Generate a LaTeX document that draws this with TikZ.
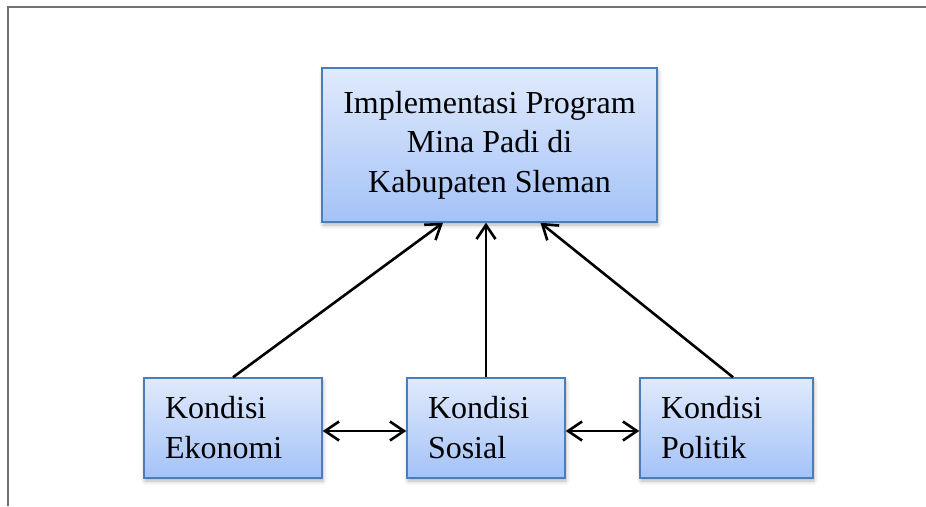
\documentclass[tikz,border=0pt]{standalone}
\usepackage{fontspec}
\setmainfont{Liberation Serif}
\usepackage{tikz}
\usetikzlibrary{arrows.meta,shadows.blur}
\definecolor{boxline}{HTML}{4A7EBB}
\definecolor{boxtop}{HTML}{E0EAFC}
\definecolor{boxbottom}{HTML}{A4C2F7}
\definecolor{framegray}{HTML}{727272}

\begin{document}
\begin{tikzpicture}[
    x=1pt, y=-1pt,
    box/.style={
        draw=boxline,
        line width=1.5pt,
        top color=boxtop,
        bottom color=boxbottom,
        blur shadow={shadow opacity=30, shadow xshift=1pt, shadow yshift=-3pt, shadow blur radius=4pt},
        font=\fontsize{32}{40}\selectfont
    },
    small/.style={
        box,
        minimum height=100pt,
        inner xsep=21pt,
        align=left
    },
    link/.style={
        line width=2.6pt,
        -{Straight Barb[length=14pt,width=19pt,line width=2.6pt]}
    },
    both/.style={
        link,
        {Straight Barb[length=14pt,width=19pt,line width=2.6pt]}-{Straight Barb[length=14pt,width=19pt,line width=2.6pt]}
    }
]

\useasboundingbox (0,0) rectangle (926,506);

% frame
\draw[framegray, line width=2.2pt] (8,506) -- (8,7) -- (926,7);

\node[
    box,
    minimum width=335pt,
    minimum height=154pt,
    align=center,
    font=\fontsize{32}{39.5}\selectfont
] (impl) at (489.5,145)
{Implementasi Program\\Mina Padi di\\Kabupaten Sleman};

\node[small, text width=136pt] (eko) at (233,428) {Kondisi\\Ekonomi};
\node[small, text width=116pt] (sos) at (486,428) {Kondisi\\Sosial};
\node[small, text width=131pt] (pol) at (726.5,428) {Kondisi\\Politik};

\draw[link] (eko.north) -- ([xshift=-46.5pt]impl.south);
\draw[link] (sos.north) -- (sos.north |- impl.south);
\draw[link] ([xshift=6.5pt]pol.north) -- ([xshift=51pt]impl.south);

\draw[both] ([yshift=-3pt]eko.east) -- ([yshift=-3pt]sos.west);
\draw[both] ([yshift=-3pt]sos.east) -- ([yshift=-3pt]pol.west);

\end{tikzpicture}
\end{document}
